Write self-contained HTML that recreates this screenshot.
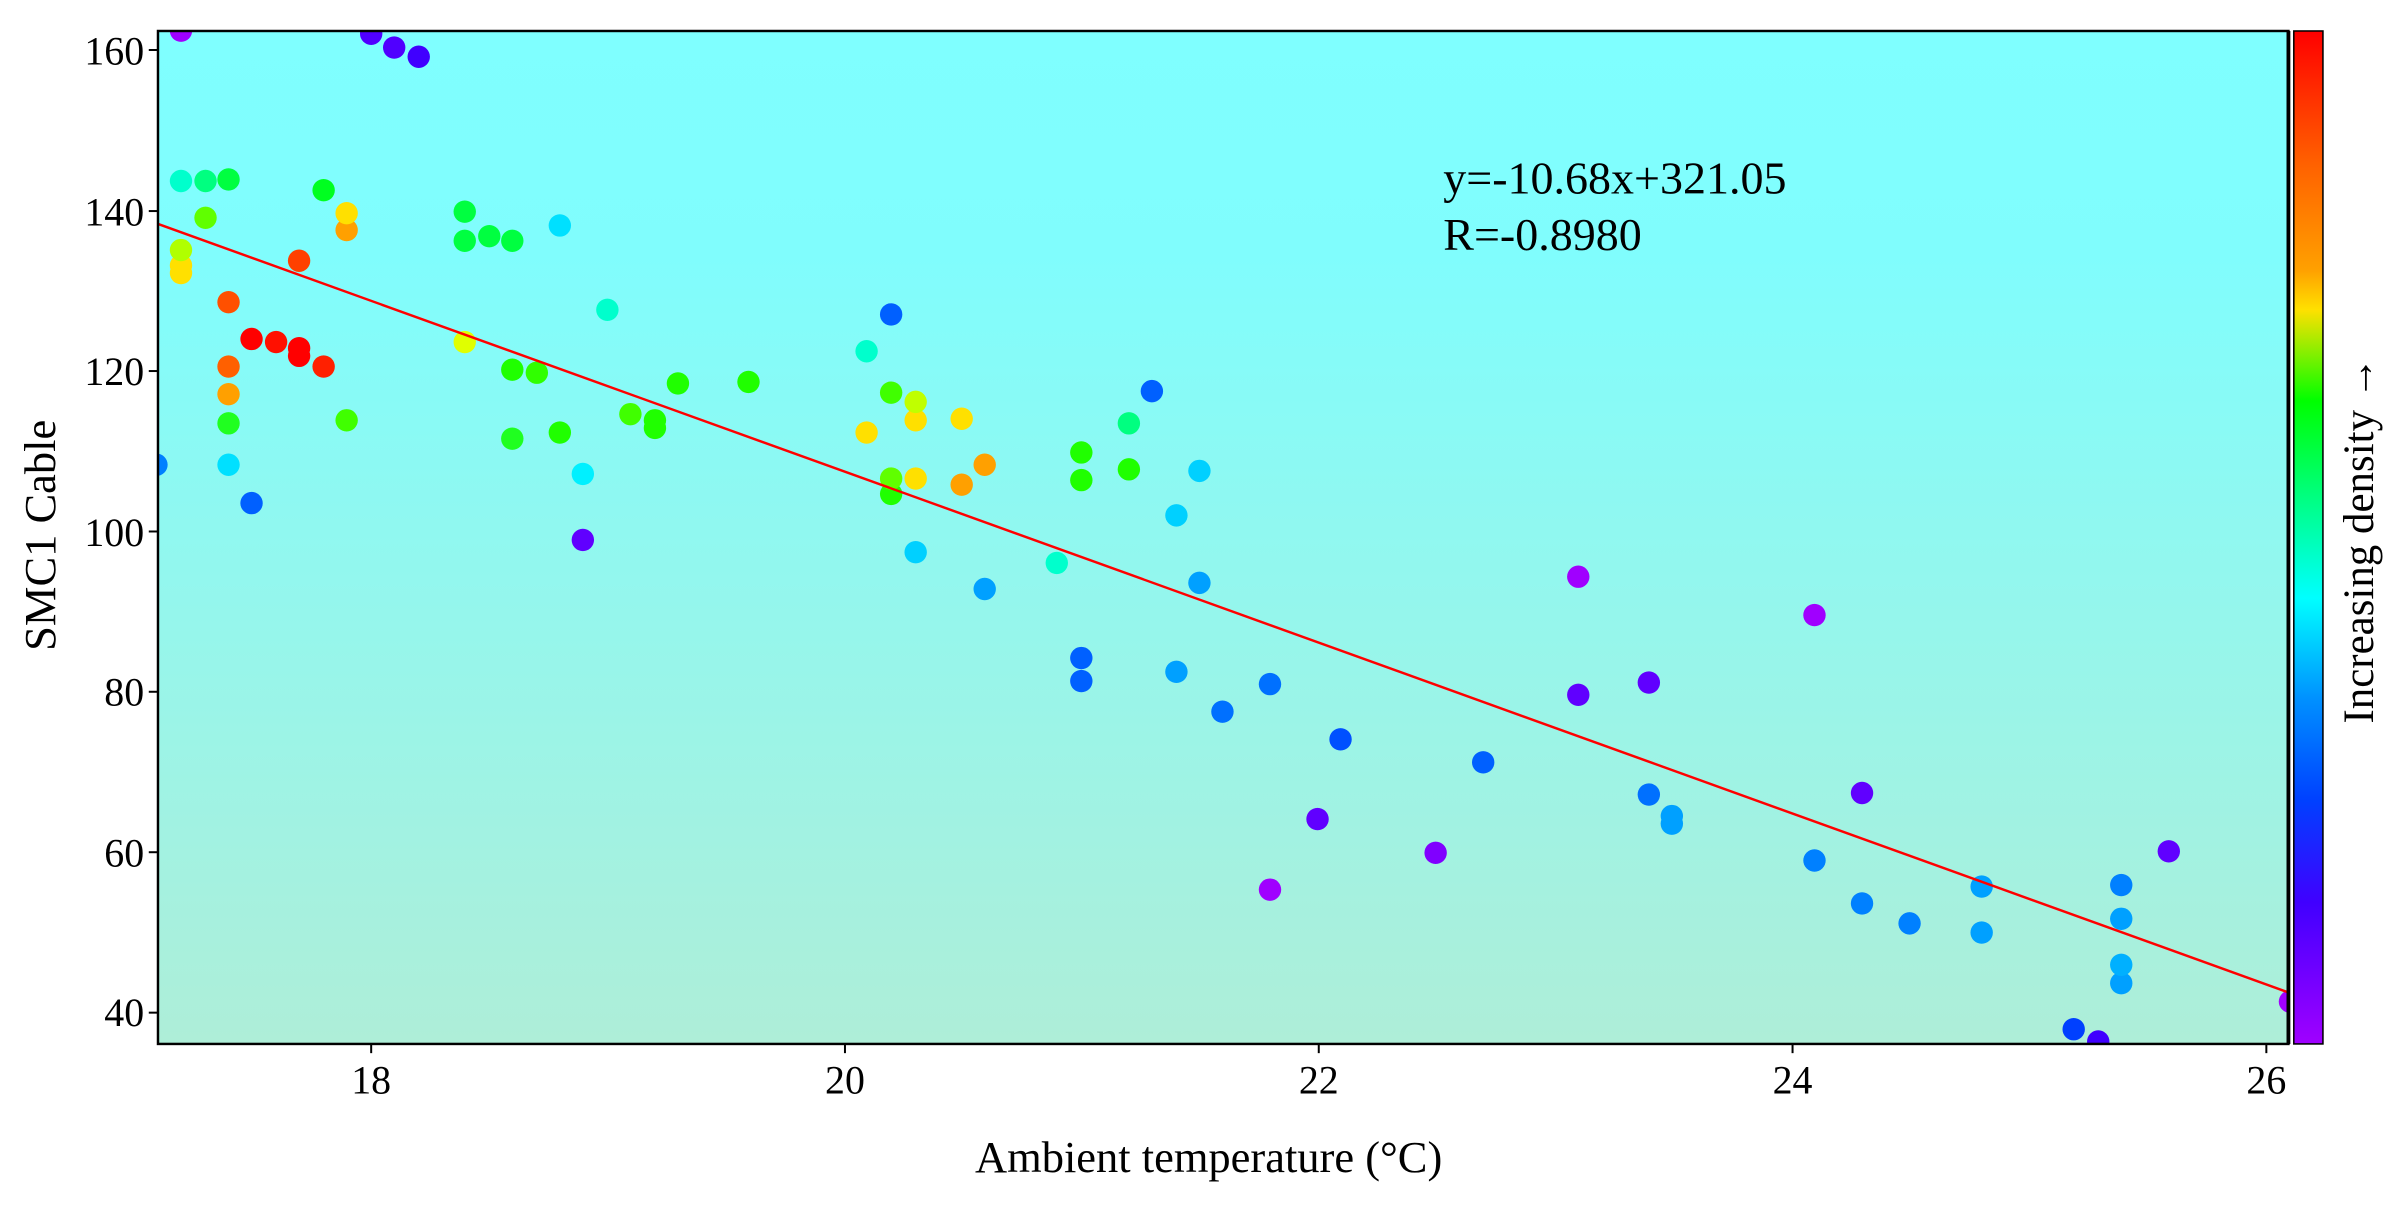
<!DOCTYPE html>
<html><head><meta charset="utf-8"><style>html,body{margin:0;padding:0;background:#fff}svg{display:block}</style></head>
<body>
<svg width="2405" height="1205" viewBox="0 0 1568 785.6" preserveAspectRatio="none" xmlns="http://www.w3.org/2000/svg" font-family="'Liberation Serif', serif">
<defs>
<linearGradient id="bg" x1="0" y1="0" x2="0" y2="1">
<stop offset="0" stop-color="#7fffff"/><stop offset="0.22" stop-color="#80fdfd"/><stop offset="1" stop-color="#aeeed8"/>
</linearGradient>
<linearGradient id="cb" x1="0" y1="0" x2="0" y2="1">
<stop offset="0" stop-color="#ff0000"/><stop offset="0.13" stop-color="#ff6000"/><stop offset="0.236" stop-color="#ffa000"/>
<stop offset="0.275" stop-color="#ffe000"/><stop offset="0.365" stop-color="#00ff00"/><stop offset="0.46" stop-color="#00ff80"/>
<stop offset="0.56" stop-color="#00ffff"/><stop offset="0.66" stop-color="#0090ff"/><stop offset="0.76" stop-color="#0040ff"/>
<stop offset="0.86" stop-color="#4000ff"/><stop offset="1" stop-color="#a000ff"/>
</linearGradient>
<clipPath id="pc"><rect x="103" y="20.2" width="1389" height="660.4"/></clipPath>
</defs>
<rect x="103" y="20.2" width="1389" height="660.4" fill="url(#bg)"/>
<g clip-path="url(#pc)">
<circle cx="118" cy="20" r="7.3" fill="#a000ff"/>
<circle cx="102" cy="303" r="7.3" fill="#0080ff"/>
<circle cx="118" cy="118" r="7.3" fill="#00ffcc"/>
<circle cx="134" cy="118" r="7.3" fill="#00ff80"/>
<circle cx="149" cy="117" r="7.3" fill="#00ff40"/>
<circle cx="134" cy="142" r="7.3" fill="#60ff00"/>
<circle cx="118" cy="178" r="7.3" fill="#ffe000"/>
<circle cx="118" cy="173" r="7.3" fill="#ffe000"/>
<circle cx="118" cy="163" r="7.3" fill="#b0ff00"/>
<circle cx="149" cy="197" r="7.3" fill="#ff5000"/>
<circle cx="149" cy="239" r="7.3" fill="#ff6000"/>
<circle cx="149" cy="257" r="7.3" fill="#ffa000"/>
<circle cx="149" cy="276" r="7.3" fill="#20ff20"/>
<circle cx="149" cy="303" r="7.3" fill="#00e0ff"/>
<circle cx="164" cy="328" r="7.3" fill="#0060ff"/>
<circle cx="164" cy="221" r="7.3" fill="#ff0000"/>
<circle cx="180" cy="223" r="7.3" fill="#ff1000"/>
<circle cx="195" cy="227" r="7.3" fill="#ff0000"/>
<circle cx="195" cy="232" r="7.3" fill="#ff0000"/>
<circle cx="211" cy="239" r="7.3" fill="#ff2000"/>
<circle cx="195" cy="170" r="7.3" fill="#ff4000"/>
<circle cx="211" cy="124" r="7.3" fill="#00ff20"/>
<circle cx="226" cy="150" r="7.3" fill="#ffa000"/>
<circle cx="226" cy="139" r="7.3" fill="#ffe000"/>
<circle cx="226" cy="274" r="7.3" fill="#40ff00"/>
<circle cx="242" cy="22" r="7.3" fill="#5000ff"/>
<circle cx="257" cy="31" r="7.3" fill="#5000ff"/>
<circle cx="273" cy="37" r="7.3" fill="#4000ff"/>
<circle cx="303" cy="138" r="7.3" fill="#00ff40"/>
<circle cx="303" cy="157" r="7.3" fill="#00ff40"/>
<circle cx="319" cy="154" r="7.3" fill="#00ff40"/>
<circle cx="334" cy="157" r="7.3" fill="#00ff40"/>
<circle cx="303" cy="223" r="7.3" fill="#e0ff00"/>
<circle cx="334" cy="241" r="7.3" fill="#20ff00"/>
<circle cx="350" cy="243" r="7.3" fill="#30ff00"/>
<circle cx="334" cy="286" r="7.3" fill="#20ff20"/>
<circle cx="365" cy="282" r="7.3" fill="#20ff00"/>
<circle cx="365" cy="147" r="7.3" fill="#00e0ff"/>
<circle cx="380" cy="309" r="7.3" fill="#00f0ff"/>
<circle cx="380" cy="352" r="7.3" fill="#6000ff"/>
<circle cx="396" cy="202" r="7.3" fill="#00ffcc"/>
<circle cx="411" cy="270" r="7.3" fill="#40ff00"/>
<circle cx="427" cy="274" r="7.3" fill="#20ff00"/>
<circle cx="427" cy="279" r="7.3" fill="#20ff00"/>
<circle cx="442" cy="250" r="7.3" fill="#20ff00"/>
<circle cx="488" cy="249" r="7.3" fill="#20ff00"/>
<circle cx="565" cy="229" r="7.3" fill="#00ffcc"/>
<circle cx="581" cy="205" r="7.3" fill="#0060ff"/>
<circle cx="581" cy="256" r="7.3" fill="#40ff00"/>
<circle cx="581" cy="322" r="7.3" fill="#20ff00"/>
<circle cx="581" cy="312" r="7.3" fill="#60ff00"/>
<circle cx="597" cy="274" r="7.3" fill="#ffe000"/>
<circle cx="597" cy="262" r="7.3" fill="#c0ff00"/>
<circle cx="597" cy="312" r="7.3" fill="#ffe000"/>
<circle cx="597" cy="360" r="7.3" fill="#00d0ff"/>
<circle cx="565" cy="282" r="7.3" fill="#ffe000"/>
<circle cx="627" cy="273" r="7.3" fill="#ffe000"/>
<circle cx="627" cy="316" r="7.3" fill="#ffa000"/>
<circle cx="642" cy="303" r="7.3" fill="#ffa000"/>
<circle cx="642" cy="384" r="7.3" fill="#00a0ff"/>
<circle cx="689" cy="367" r="7.3" fill="#00ffcc"/>
<circle cx="705" cy="295" r="7.3" fill="#20ff00"/>
<circle cx="705" cy="313" r="7.3" fill="#20ff00"/>
<circle cx="705" cy="444" r="7.3" fill="#0060ff"/>
<circle cx="705" cy="429" r="7.3" fill="#0060ff"/>
<circle cx="736" cy="276" r="7.3" fill="#00ff80"/>
<circle cx="736" cy="306" r="7.3" fill="#20ff00"/>
<circle cx="751" cy="255" r="7.3" fill="#0060ff"/>
<circle cx="767" cy="336" r="7.3" fill="#00d0ff"/>
<circle cx="782" cy="307" r="7.3" fill="#00d0ff"/>
<circle cx="782" cy="380" r="7.3" fill="#00a0ff"/>
<circle cx="767" cy="438" r="7.3" fill="#00a0ff"/>
<circle cx="797" cy="464" r="7.3" fill="#0070ff"/>
<circle cx="828" cy="446" r="7.3" fill="#0070ff"/>
<circle cx="828" cy="580" r="7.3" fill="#a000ff"/>
<circle cx="859" cy="534" r="7.3" fill="#6000ff"/>
<circle cx="874" cy="482" r="7.3" fill="#0050ff"/>
<circle cx="936" cy="556" r="7.3" fill="#8000ff"/>
<circle cx="967" cy="497" r="7.3" fill="#0060ff"/>
<circle cx="1029" cy="376" r="7.3" fill="#a000ff"/>
<circle cx="1029" cy="453" r="7.3" fill="#6000ff"/>
<circle cx="1075" cy="445" r="7.3" fill="#6000ff"/>
<circle cx="1075" cy="518" r="7.3" fill="#0070ff"/>
<circle cx="1090" cy="537" r="7.3" fill="#00a0ff"/>
<circle cx="1090" cy="532" r="7.3" fill="#00a0ff"/>
<circle cx="1183" cy="401" r="7.3" fill="#a000ff"/>
<circle cx="1183" cy="561" r="7.3" fill="#0080ff"/>
<circle cx="1214" cy="517" r="7.3" fill="#6000ff"/>
<circle cx="1214" cy="589" r="7.3" fill="#0080ff"/>
<circle cx="1245" cy="602" r="7.3" fill="#0080ff"/>
<circle cx="1292" cy="578" r="7.3" fill="#00a0ff"/>
<circle cx="1292" cy="608" r="7.3" fill="#00a0ff"/>
<circle cx="1352" cy="671" r="7.3" fill="#0040ff"/>
<circle cx="1368" cy="679" r="7.3" fill="#4000ff"/>
<circle cx="1383" cy="577" r="7.3" fill="#0080ff"/>
<circle cx="1383" cy="599" r="7.3" fill="#00a0ff"/>
<circle cx="1383" cy="641" r="7.3" fill="#00a0ff"/>
<circle cx="1383" cy="629" r="7.3" fill="#00b0ff"/>
<circle cx="1414" cy="555" r="7.3" fill="#6000ff"/>
<circle cx="1493" cy="653" r="7.3" fill="#a000ff"/>
</g>
<line x1="103" y1="146" x2="1492" y2="647" stroke="#ff0000" stroke-width="1.6" clip-path="url(#pc)"/>
<rect x="103" y="20.2" width="1389" height="660.4" fill="none" stroke="#000" stroke-width="1.6"/>
<line x1="1492" y1="20.2" x2="1492" y2="680.6" stroke="#000" stroke-width="2.5"/>
<rect x="1495.5" y="20.2" width="19" height="660.4" fill="url(#cb)" stroke="#000" stroke-width="1"/>
<g stroke="#000" stroke-width="1.3">
<line x1="97" y1="32.6" x2="103" y2="32.6"/><line x1="97" y1="137.6" x2="103" y2="137.6"/><line x1="97" y1="241.9" x2="103" y2="241.9"/>
<line x1="97" y1="346.5" x2="103" y2="346.5"/><line x1="97" y1="451" x2="103" y2="451"/><line x1="97" y1="555.6" x2="103" y2="555.6"/><line x1="97" y1="660.2" x2="103" y2="660.2"/>
<line x1="242" y1="680.6" x2="242" y2="686.6"/><line x1="550.9" y1="680.6" x2="550.9" y2="686.6"/><line x1="859.8" y1="680.6" x2="859.8" y2="686.6"/>
<line x1="1168.7" y1="680.6" x2="1168.7" y2="686.6"/><line x1="1477.6" y1="680.6" x2="1477.6" y2="686.6"/>
</g>
<g font-size="26" fill="#000" text-anchor="end">
<text x="94" y="42">160</text><text x="94" y="147">140</text><text x="94" y="251">120</text><text x="94" y="356">100</text>
<text x="94" y="460">80</text><text x="94" y="565">60</text><text x="94" y="669">40</text>
</g>
<g font-size="26" fill="#000" text-anchor="middle">
<text x="242" y="713">18</text><text x="550.9" y="713">20</text><text x="859.8" y="713">22</text><text x="1168.7" y="713">24</text><text x="1477.6" y="713">26</text>
<text x="788" y="764" font-size="29">Ambient temperature (°C)</text>
<text transform="translate(36,349) rotate(-90)" font-size="29">SMC1 Cable</text>
<text transform="translate(1547,352) rotate(-90)" font-size="28">Increasing density →</text>
</g>
<text x="941" y="126" font-size="30" fill="#000">y=-10.68x+321.05</text>
<text x="941" y="163" font-size="30" fill="#000">R=-0.8980</text>
</svg>
</body></html>
